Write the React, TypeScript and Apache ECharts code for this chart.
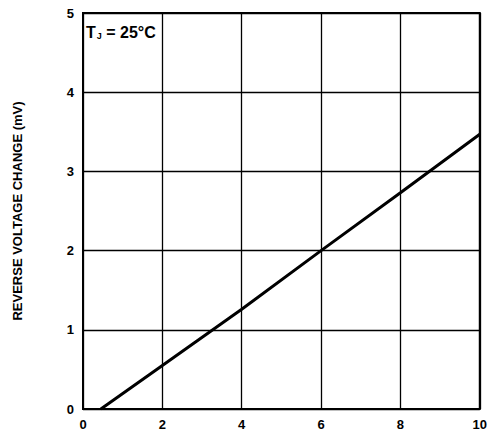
import React, { useEffect, useRef } from "react";
import * as echarts from "echarts";

const xValues = [0.45, 2, 4, 6, 8, 10];
const yValues = [0, 0.55, 1.26, 2.0, 2.73, 3.47];
const xTicks = [0, 2, 4, 6, 8, 10];
const yTicks = [0, 1, 2, 3, 4, 5];
const yAxisTitle = "REVERSE VOLTAGE CHANGE (mV)";

export default function App() {
  const ref = useRef<HTMLDivElement>(null);
  useEffect(() => {
    if (!ref.current) return;
    const chart = echarts.init(ref.current, null, { renderer: "svg" });
    const font = "'Liberation Sans', Arial, sans-serif";
    chart.setOption({
      animation: false,
      backgroundColor: "#fff",
      grid: {
        left: 83,
        right: 4,
        top: 13,
        bottom: 28,
        show: true,
        borderColor: "#000",
        borderWidth: 2,
        backgroundColor: "transparent",
        z: 5,
      },
      xAxis: {
        type: "value",
        min: xTicks[0],
        max: xTicks[xTicks.length - 1],
        interval: 2,
        axisLine: { show: false },
        axisTick: { show: false },
        splitLine: { show: true, lineStyle: { color: "#000", width: 1.3 } },
        axisLabel: {
          color: "#000",
          fontFamily: font,
          fontWeight: "bold",
          fontSize: 13,
          margin: 9,
          formatter: (v: number) => (xTicks.includes(v) ? String(v) : ""),
        },
      },
      yAxis: {
        type: "value",
        min: yTicks[0],
        max: yTicks[yTicks.length - 1],
        interval: 1,
        name: yAxisTitle,
        nameLocation: "middle",
        nameGap: 59,
        nameTextStyle: {
          color: "#000",
          fontFamily: font,
          fontWeight: "bold",
          fontSize: 13,
        },
        axisLine: { show: false },
        axisTick: { show: false },
        splitLine: { show: true, lineStyle: { color: "#000", width: 1.3 } },
        axisLabel: {
          color: "#000",
          fontFamily: font,
          fontWeight: "bold",
          fontSize: 13,
          margin: 9,
          formatter: (v: number) => (yTicks.includes(v) ? String(v) : ""),
        },
      },
      graphic: [
        {
          type: "text",
          left: 86,
          top: 24,
          z: 10,
          style: {
            text: "{t|T}{s|J}{t| = 25°C}",
            rich: {
              t: { fontFamily: font, fontWeight: "bold", fontSize: 16, fill: "#000" },
              s: {
                fontFamily: font,
                fontWeight: "bold",
                fontSize: 9,
                fill: "#000",
                verticalAlign: "bottom",
                padding: [6, 0, 0, 1],
              },
            },
          },
        },
      ],
      series: [
        {
          type: "line",
          data: xValues.map((x, i) => [x, yValues[i]]),
          symbol: "none",
          lineStyle: { color: "#000", width: 3 },
          z: 6,
        },
      ],
    });
    return () => chart.dispose();
  }, []);
  return (
    <div
      ref={ref}
      style={{ position: "fixed", left: 0, top: 0, width: 490, height: 437, background: "#fff" }}
    />
  );
}
